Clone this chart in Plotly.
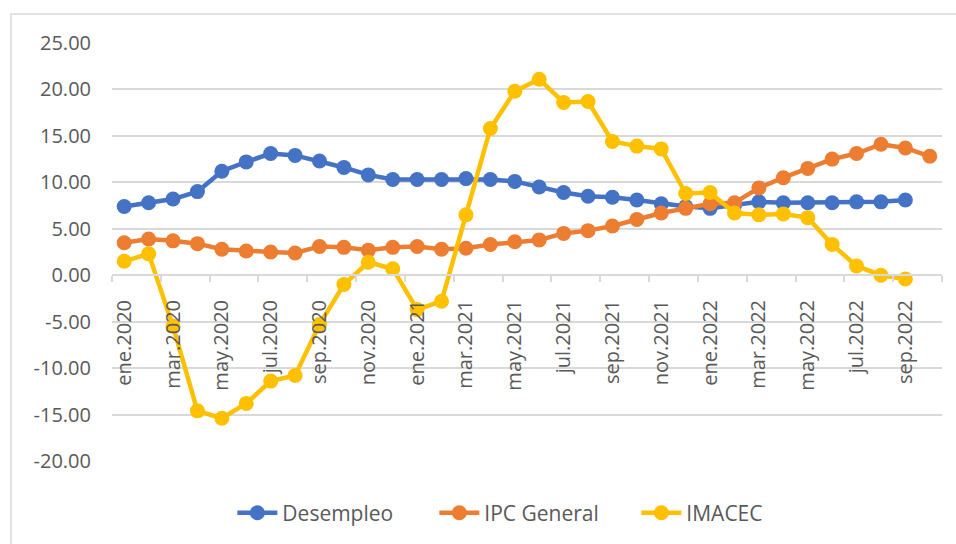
import plotly.graph_objects as go

months = [f"{m}.{y}" for y in (2020, 2021, 2022)
          for m in ["ene", "feb", "mar", "abr", "may", "jun", "jul", "ago", "sep", "oct", "nov", "dic"]][:34]

desempleo = [7.4, 7.8, 8.2, 9.0, 11.2, 12.2, 13.1, 12.9, 12.3, 11.6, 10.8, 10.3,
             10.3, 10.3, 10.4, 10.3, 10.1, 9.5, 8.9, 8.5, 8.4, 8.1, 7.7, 7.4,
             7.2, 7.5, 7.9, 7.8, 7.8, 7.8, 7.9, 7.9, 8.1]
ipc = [3.5, 3.9, 3.7, 3.4, 2.8, 2.6, 2.5, 2.4, 3.1, 3.0, 2.7, 3.0,
       3.1, 2.8, 2.9, 3.3, 3.6, 3.8, 4.5, 4.8, 5.3, 6.0, 6.7, 7.2,
       7.7, 7.8, 9.4, 10.5, 11.5, 12.5, 13.1, 14.1, 13.7, 12.8]
imacec = [1.5, 2.3, -5.5, -14.6, -15.4, -13.8, -11.4, -10.8, -5.3, -1.0, 1.4, 0.7,
          -3.7, -2.8, 6.5, 15.8, 19.8, 21.1, 18.6, 18.7, 14.4, 13.9, 13.6, 8.8,
          8.9, 6.7, 6.5, 6.6, 6.2, 3.3, 1.0, 0.0, -0.4]

y_ticks = [-20, -15, -10, -5, 0, 5, 10, 15, 20, 25]
y_ticktext = [f"{v:.2f}" for v in y_ticks]

series = [("Desempleo", desempleo, "#4472C4"),
          ("IPC General", ipc, "#ED7D31"),
          ("IMACEC", imacec, "#FFC000")]

FONT = "Open Sans"
fig = go.Figure()
for name, vals, color in series:
    fig.add_trace(go.Scatter(
        x=list(range(len(vals))), y=vals, name=name, mode="lines+markers",
        line=dict(color=color, width=4.5),
        marker=dict(color=color, size=15),
    ))

label_idx = list(range(0, len(months) - 1, 2))
fig.update_layout(
    width=956, height=544,
    margin=dict(l=112, r=14, t=43, b=82),
    paper_bgcolor="white", plot_bgcolor="white",
    font=dict(family=FONT, size=20, color="#595959"),
    showlegend=True,
    legend=dict(orientation="h", x=0.145, xanchor="left", y=-0.122, yanchor="middle",
                font=dict(family=FONT, size=21, color="#595959"),
                entrywidth=147, itemwidth=40, traceorder="normal"),
    xaxis=dict(
        range=[-0.5, len(months) - 0.5],
        anchor="free", position=20 / 45, automargin=False,
        showline=True, linecolor="#d9d9d9", linewidth=1.5,
        showgrid=False, zeroline=False,
        tickmode="array", tickvals=label_idx, ticktext=[months[i] for i in label_idx],
        tickangle=-90, ticks="", ticklabelstandoff=16,
        minor=dict(tickmode="array", tickvals=[i - 0.5 for i in label_idx] + [len(months) - 0.5],
                   ticks="outside", ticklen=6, tickcolor="#d9d9d9", tickwidth=1.5, showgrid=False),
        tickfont=dict(family=FONT, size=20, color="#595959"),
    ),
    yaxis=dict(
        range=[-20, 25], tickmode="array", tickvals=y_ticks, ticktext=y_ticktext,
        showgrid=True, gridcolor="#d9d9d9", gridwidth=1.5, automargin=False,
        zeroline=False, showline=False, ticks="",
        ticklabelstandoff=20,
        tickfont=dict(family=FONT, size=20, color="#595959"),
    ),
    shapes=[dict(type="rect", xref="paper", yref="paper",
                 x0=(11 - 112) / 830, x1=(970 - 112) / 830,
                 y0=(462 - 570) / 419, y1=(462 - 14) / 419,
                 line=dict(color="#d9d9d9", width=1.5), layer="below")],
)

fig.write_html(
    "out.html",
    config={"displayModeBar": False},
    post_script="document.body.style.margin='0';document.body.style.overflow='hidden';",
)
